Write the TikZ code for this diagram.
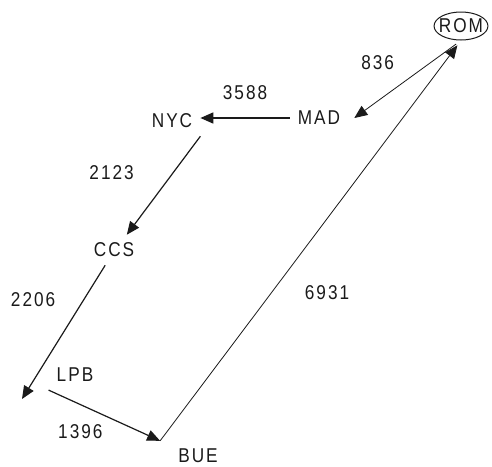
\documentclass[tikz,border=0pt]{standalone}
\usepackage{fontspec}
\setmainfont[FakeStretch=0.86, LetterSpace=10]{Liberation Sans}
\definecolor{RouteInk}{HTML}{1A1A1A}
\usetikzlibrary{arrows.meta,positioning,shapes.geometric}
\tikzset{
  city/.style={inner sep=8pt, font=\fontsize{20}{24}\selectfont, text=RouteInk},
  hub/.style={ellipse, draw=RouteInk, line width=1pt, inner sep=-3pt, minimum height=28pt, font=\fontsize{20}{24}\selectfont, text=RouteInk},
  route/.style={-{Triangle[length=13pt,width=11pt]}, line width=1.2pt, RouteInk},
  thin route/.style={route, line width=0.8pt},
  dist/.style={inner sep=0pt, font=\fontsize{20}{24}\selectfont, text=RouteInk}
}

\begin{document}
\begin{tikzpicture}[node distance=1cm, on grid]
    \useasboundingbox (0,0) rectangle (492pt,-466pt);
    \node[hub] (rom) at (461pt,-26pt) {ROM};
    \node[city, below left=92pt and 142pt of rom] (mad) {MAD};
    \node[city, below left=3pt and 147pt of mad] (nyc) {NYC};
    \node[city, below left=129pt and 58pt of nyc] (ccs) {CCS};
    \node[city, below left=125pt and 39pt of ccs] (lpb) {LPB};
    \node[city, below right=81pt and 123pt of lpb] (bue) {BUE};
    \coordinate[below left=24pt and 53pt of lpb] (ccsend);
    \coordinate (buein) at ([xshift=-10pt]bue.north west);

    \draw[route, line width=1.6pt] (mad.west) -- node[dist, midway, shift={(0pt,25pt)}] {3588} (mad.west -| nyc.east);
    \draw[thin route, {Triangle[length=13pt,width=11pt]}-, shorten >=6pt] ([xshift=6pt]mad.east) -- node[dist, midway, shift={(-30pt,17pt)}] {836} (rom.south);
    \draw[route] (nyc.south east) -- node[dist, midway, shift={(-52pt,12.5pt)}] {2123} (ccs.50);
    \draw[route] (ccs.240) -- node[dist, midway, shift={(-30.5pt,33pt)}] {2206} (ccsend);
    \draw[route] (lpb.south west) -- node[dist, midway, shift={(-24pt,-16pt)}] {1396} (buein);
    \draw[thin route, shorten >=6pt] (buein) -- node[dist, midway, shift={(16.5pt,-51.6pt)}] {6931} (rom.south);
  \end{tikzpicture}
\end{document}
